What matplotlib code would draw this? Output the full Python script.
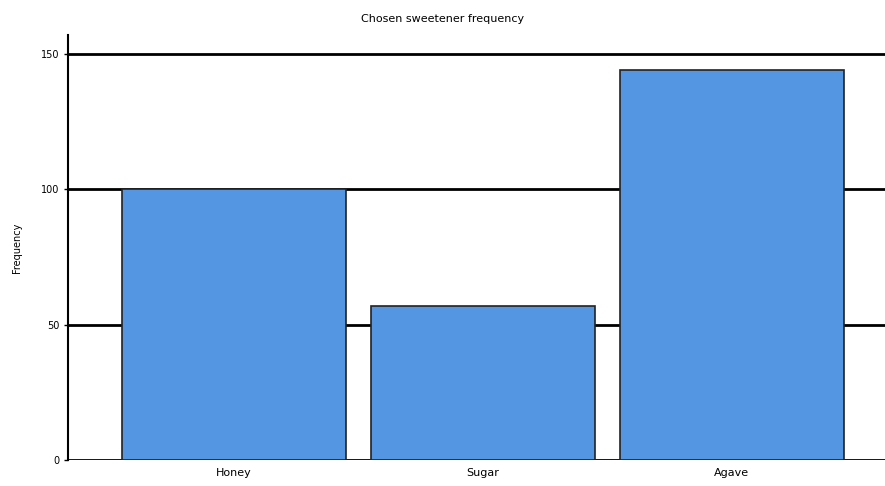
import numpy as np
import matplotlib
matplotlib.use('Agg')
import matplotlib.pyplot as plt

# data
categories = ['Honey', 'Sugar', 'Agave']
counts = [100, 57, 144]
yticks = [0, 50, 100, 150]

title = 'Chosen sweetener frequency'
ylabel = 'Frequency'

fig = plt.figure(figsize=(8.85, 4.86), dpi=100)
ax = fig.add_axes([0.0768, 0.0535, 0.9232, 0.8745])

x = np.arange(len(categories))
ax.bar(x, counts, width=0.9, color='#5596e2', edgecolor='#222222',
       linewidth=1.2, zorder=3)

ax.set_xlim(-0.665, 2.616)
ax.set_ylim(0, 157)
ax.set_yticks(yticks)
ax.set_yticklabels([str(t) for t in yticks], fontsize=7)
ax.set_xticks(x)
ax.set_xticklabels(categories, fontsize=8)
ax.tick_params(axis='x', length=0, pad=6)
ax.tick_params(axis='y', length=3, width=1, pad=3)

ax.yaxis.grid(True, color='black', linewidth=2)
ax.set_axisbelow(True)

for s in ['top', 'right', 'bottom']:
    ax.spines[s].set_visible(False)
ax.spines['left'].set_linewidth(1.5)

ax.set_ylabel(ylabel, fontsize=7, labelpad=14)
fig.text(0.5, 0.955, title, ha='center', fontsize=8)

fig.savefig('out.png', dpi=100)
